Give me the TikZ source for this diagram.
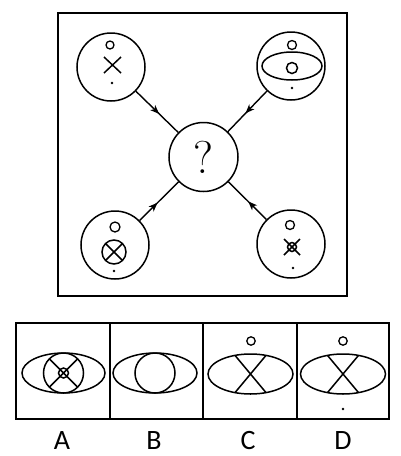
\documentclass[tikz,border=0pt]{standalone}
\usepackage{fontspec}
\newfontfamily\labelfont{Carlito}
\usetikzlibrary{arrows.meta,decorations.markings}
\tikzset{
  ln/.style={line width=1.5pt},
  bigcirc/.style={circle, draw, line width=1.5pt, minimum size=68pt, inner sep=0pt},
  smallo/.style={line width=1.3pt},
  dotf/.style={fill=black},
  midarrow/.style={line width=1.4pt, decoration={markings, mark=at position #1 with {\arrow{Stealth[length=9pt,width=7pt,inset=2.5pt]}}}, postaction=decorate},
  frame/.style={line width=1.7pt},
  letter/.style={inner sep=0pt, font=\labelfont\fontsize{28}{28}\selectfont}
}
\begin{document}
\begin{tikzpicture}[x=1pt,y=-1pt]
\useasboundingbox (0,0) rectangle (400,456);
% top frame
\draw[frame] (58,13) rectangle (347,296);
% circles
\node[bigcirc] (tl) at (111,67) {};
\node[bigcirc] (tr) at (291,66) {};
\node[bigcirc] (bl) at (115,245) {};
\node[bigcirc] (br) at (291,244) {};
\node[bigcirc, minimum size=69pt, font=\fontsize{46}{46}\selectfont] (q) at (203.5,157) {?};
% connectors
\draw[midarrow=0.55] (tl) -- (q);
\draw[midarrow=0.55] (tr) -- (q);
\draw[midarrow=0.46] (bl) -- (q);
\draw[midarrow=0.48] (br) -- (q);
% top-left content
\draw[smallo] (110,45) circle (4);
\draw[ln] (104,57) -- (121,73) (121,57) -- (104,73);
\fill[dotf] (112,83) circle (1.3);
% top-right content
\draw[smallo] (292,45) circle (4.5);
\draw[ln] (292,66) ellipse (30 and 14);
\draw[ln] (292,68) circle (5.5);
\fill[dotf] (292,88) circle (1.3);
% bottom-left content
\draw[smallo] (115,227) circle (5);
\draw[ln] (114,252) circle (12);
\draw[ln] (105.5,243.5) -- (122.5,260.5) (122.5,243.5) -- (105.5,260.5);
\fill[dotf] (114,271) circle (1.3);
% bottom-right content
\draw[smallo] (290,225) circle (4.5);
\draw[ln] (292,247) circle (4.5);
\draw[ln] (284,239) -- (300,255) (300,239) -- (284,255);
\fill[dotf] (293,268) circle (1.3);
% answer strip
\draw[frame] (16,323) rectangle (389,419);
\draw[frame] (110,323) -- (110,419) (203,323) -- (203,419) (297,323) -- (297,419);
% A
\draw[ln] (63.5,373) ellipse (41.5 and 20);
\draw[ln] (63.5,373) circle (20);
\draw[ln] (49.4,358.9) -- (77.6,387.1) (77.6,358.9) -- (49.4,387.1);
\draw[ln] (63.5,373) circle (5);
% B
\draw[ln] (155,373) ellipse (42 and 20);
\draw[ln] (155,373) circle (20);
% C
\draw[smallo] (251,341) circle (4.2);
\draw[ln] (250.5,374) ellipse (42.5 and 20);
\draw[ln] (235,355.4) -- (266,392.6) (266,355.4) -- (235,392.6);
% D
\draw[smallo] (343,341) circle (4.2);
\draw[ln] (343,374) ellipse (42.5 and 20);
\draw[ln] (327.5,355.4) -- (358.5,392.6) (358.5,355.4) -- (327.5,392.6);
\fill[dotf] (343,409) circle (1.3);
% letters
\node[letter] (la) at (62,441) {A};
\node[letter] (lb) at (154,441) {B};
\node[letter] (lc) at (248,441) {C};
\node[letter] (ld) at (343,441) {D};
\end{tikzpicture}
\end{document}
